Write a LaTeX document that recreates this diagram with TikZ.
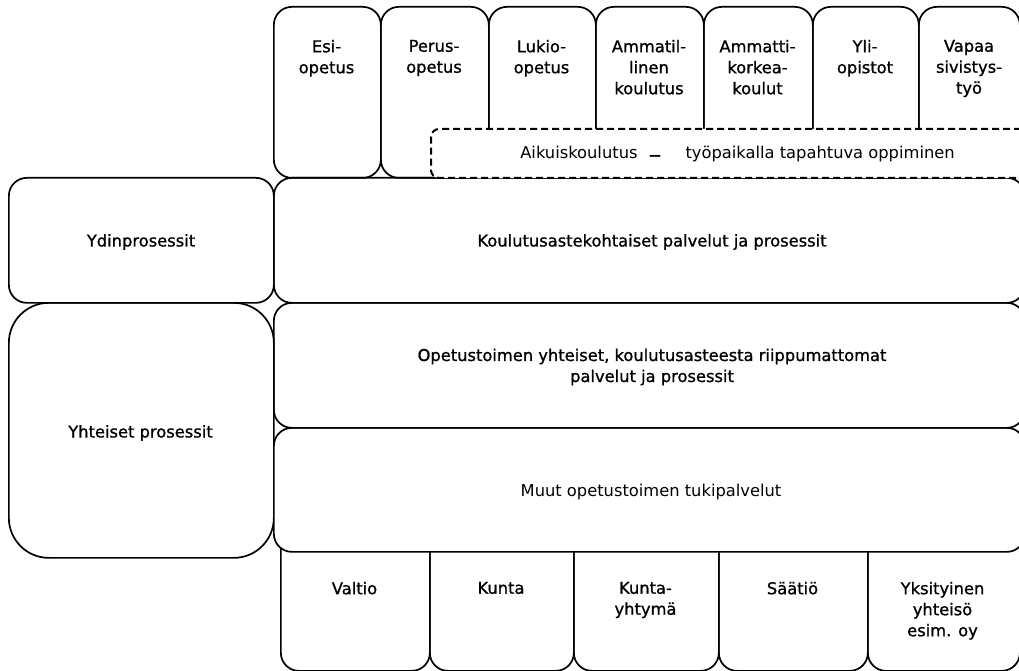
\documentclass[tikz,border=0pt]{standalone}
\usepackage{fontspec}
\setmainfont{DejaVu Sans}
\newfontfamily\darkfont[FakeBold=1]{DejaVu Sans}
\begin{document}
\begin{tikzpicture}[x=1pt,y=-1pt,line width=1.7pt,
  box/.style={draw,rounded corners=18pt,inner sep=0pt,anchor=north west},
  bigbox/.style={box,rounded corners=40pt},
  dashbox/.style={box,line width=2pt,dash pattern=on 7pt off 4pt,rounded corners=8pt,fill=white},
  txt/.style={font=\fontsize{16.3}{21}\selectfont,align=center,inner sep=0pt},
  dtxt/.style={font=\fontsize{16.3}{21}\darkfont,align=center,inner sep=0pt}]
\useasboundingbox (0,0) rectangle (1019,671);
\clip (0,0) rectangle (1019,671);
% top boxes
\node[box,minimum width=107pt,minimum height=171pt] (esi) at (273,6) {};
\node[box,minimum width=108pt,minimum height=171pt] (perus) at (380,6) {};
\node[box,minimum width=107pt,minimum height=171pt] (lukio) at (488,6) {};
\node[box,minimum width=108pt,minimum height=171pt] (ammatil) at (595,6) {};
\node[box,minimum width=109pt,minimum height=171pt] (amk) at (703,6) {};
\node[box,minimum width=106pt,minimum height=171pt] (yli) at (812,6) {};
\node[box,minimum width=101pt,minimum height=171pt] (vapaa) at (918,6) {};
% left boxes
\node[box,minimum width=265pt,minimum height=125pt] (ydin) at (8,177) {};
\node[bigbox,minimum width=265pt,minimum height=255pt] (yht) at (8,302) {};
% bottom boxes
\node[box,minimum width=149pt,minimum height=140pt] (valtio) at (280,530) {};
\node[box,minimum width=144pt,minimum height=140pt] (kunta) at (429,530) {};
\node[box,minimum width=145pt,minimum height=140pt] (ky) at (573,530) {};
\node[box,minimum width=149pt,minimum height=140pt] (saatio) at (718,530) {};
\node[box,minimum width=152pt,minimum height=140pt] (yks) at (867,530) {};
% big boxes
\node[box,fill=white,minimum width=751pt,minimum height=124pt] (muut) at (273,427) {};
\node[box,minimum width=751pt,minimum height=125pt] (opet) at (273,302) {};
\node[box,minimum width=751pt,minimum height=125pt] (koul) at (273,177) {};
% dashed adult education band
\node[dashbox,minimum width=620pt,minimum height=49pt] (aik) at (430,128) {};
% texts
\node[dtxt,anchor=north] (tesi) at (326.5,39) {Esi-\\opetus};
\node[dtxt,anchor=north] (tperus) at (434,39) {Perus-\\opetus};
\node[dtxt,anchor=north] (tlukio) at (541.5,39) {Lukio-\\opetus};
\node[dtxt,anchor=north] (tammatil) at (649,39) {Ammatil-\\linen\\koulutus};
\node[dtxt,anchor=north] (tamk) at (757.5,39) {Ammatti-\\korkea-\\koulut};
\node[dtxt,anchor=north] (tyli) at (865,39) {Yli-\\opistot};
\node[dtxt,anchor=north] (tvapaa) at (969,39) {Vapaa\\sivistys-\\työ};
\node[txt] (taik) at (737.5,155) {Aikuiskoulutus\hspace{11pt}\raisebox{-5pt}{\fontsize{26}{26}\selectfont –}\hspace{24pt}työpaikalla tapahtuva oppiminen};
\node[dtxt] (tydin) at (141,242) {Ydinprosessit};
\node[dtxt] (tyht) at (140.5,433) {Yhteiset prosessit};
\node[dtxt] (tkoul) at (652,242) {Koulutusastekohtaiset palvelut ja prosessit};
\node[dtxt] (topet) at (652,367) {Opetustoimen yhteiset, koulutusasteesta riippumattomat\\palvelut ja prosessit};
\node[txt] (tmuut) at (651,492) {Muut opetustoimen tukipalvelut};
\node[dtxt,anchor=north] (tvaltio) at (354.5,581) {Valtio};
\node[dtxt,anchor=north] (tkunta) at (501,581) {Kunta};
\node[dtxt,anchor=north] (tky) at (645.5,581) {Kunta-\\yhtymä};
\node[dtxt,anchor=north] (tsaatio) at (792.5,581) {Säätiö};
\node[dtxt,anchor=north] (tyks) at (942.5,581) {Yksityinen\\yhteisö\\esim. oy};
\end{tikzpicture}
\end{document}
